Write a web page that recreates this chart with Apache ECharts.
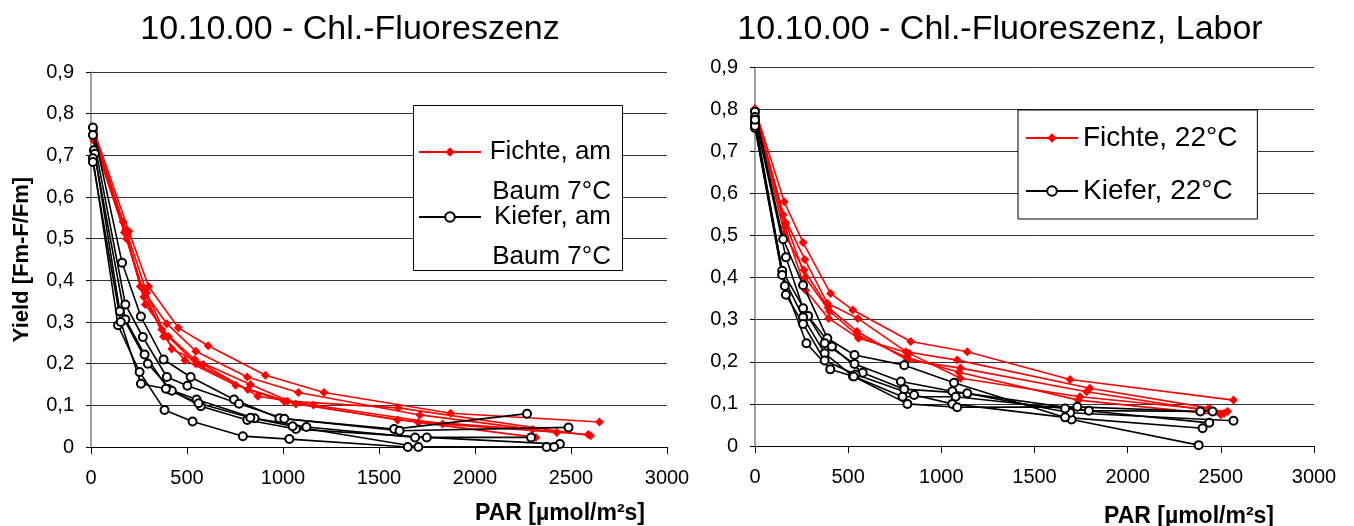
<!DOCTYPE html>
<html>
<head>
<meta charset="utf-8">
<script src="https://cdn.jsdelivr.net/npm/echarts@6/dist/echarts.min.js"></script>
<style>
html,body{margin:0;padding:0;background:#fff;}
#chart{width:1354px;height:526px;}
</style>
</head>
<body>
<div id="chart"></div>
<script>
// ---- Data: [PAR, Yield] ----
// Left chart: 10.10.00 - field ("am Baum 7°C")
const fichteBaum1 = [[15,0.76],[197,0.518],[300,0.385],[455,0.286],[610,0.243],[909,0.172],[1214,0.131],[1873,0.081],[2648,0.06]];
const fichteBaum2 = [[15,0.755],[167,0.54],[257,0.385],[395,0.296],[546,0.23],[814,0.168],[1080,0.131],[1713,0.077],[2426,0.035]];
const fichteBaum3 = [[15,0.75],[174,0.515],[270,0.38],[378,0.265],[489,0.208],[754,0.148],[1024,0.11],[1601,0.094],[2602,0.027]];
const fichteBaum4 = [[15,0.745],[180,0.52],[283,0.342],[403,0.265],[546,0.2],[817,0.138],[1007,0.109],[1597,0.065],[2300,0.042]];
const fichteBaum5 = [[15,0.74],[190,0.51],[290,0.37],[421,0.235],[585,0.198],[869,0.122],[1159,0.101],[1831,0.055],[2590,0.03]];
const fichteBaum6 = [[15,0.735],[185,0.50],[275,0.36],[369,0.282],[540,0.21],[830,0.15],[1067,0.103],[1705,0.059],[2317,0.023]];

const kieferBaum1 = [[10,0.767],[162,0.442],[260,0.313],[378,0.21],[519,0.168],[745,0.114],[981,0.069],[1579,0.043],[2271,0.08]];
const kieferBaum2 = [[10,0.749],[179,0.342],[270,0.264],[395,0.168],[502,0.147],[771,0.104],[1007,0.068],[1607,0.039],[2487,0.047]];
const kieferBaum3 = [[15,0.712],[179,0.306],[279,0.222],[403,0.139],[550,0.114],[852,0.069],[1122,0.048],[1688,0.023],[2292,0.023]];
const kieferBaum4 = [[20,0.704],[150,0.326],[296,0.2],[421,0.135],[572,0.098],[814,0.065],[1067,0.043],[1749,0.023],[2442,0.007]];
const kieferBaum5 = [[10,0.693],[141,0.292],[253,0.18],[383,0.089],[529,0.061],[791,0.026],[1033,0.019],[1650,0],[2373,0]];
const kieferBaum6 = [[10,0.684],[155,0.30],[260,0.152],[390,0.14],[560,0.105],[830,0.07],[1050,0.05],[1705,0],[2412,0]];

// Right chart: 10.10.00 - lab (22°C)
const fichte22_1 = [[0,0.80],[157,0.58],[258,0.483],[406,0.362],[525,0.323],[836,0.248],[1139,0.224],[1691,0.158],[2568,0.109]];
const fichte22_2 = [[0,0.80],[151,0.549],[267,0.443],[388,0.339],[552,0.303],[810,0.224],[1085,0.204],[1797,0.137],[2438,0.09]];
const fichte22_3 = [[0,0.80],[157,0.505],[263,0.418],[392,0.329],[548,0.272],[818,0.204],[1103,0.185],[1780,0.129],[2518,0.078]];
const fichte22_4 = [[0,0.80],[160,0.52],[272,0.37],[395,0.303],[555,0.256],[828,0.22],[1103,0.161],[1744,0.117],[2536,0.082]];
const fichte22_5 = [[0,0.795],[165,0.53],[270,0.40],[400,0.32],[545,0.265],[815,0.21],[1095,0.175],[1735,0.109],[2500,0.074]];

const kiefer22_1 = [[0,0.794],[151,0.491],[258,0.382],[388,0.256],[534,0.216],[801,0.192],[1068,0.15],[1699,0.063],[2381,0.002]];
const kiefer22_2 = [[0,0.781],[166,0.448],[258,0.327],[374,0.244],[534,0.195],[783,0.153],[1059,0.13],[1792,0.084],[2456,0.082]];
const kiefer22_3 = [[0,0.768],[146,0.416],[285,0.309],[413,0.236],[578,0.174],[801,0.135],[1139,0.125],[1691,0.079],[2568,0.06]];
const kiefer22_4 = [[0,0.755],[146,0.406],[258,0.306],[374,0.22],[525,0.166],[792,0.117],[1077,0.117],[1664,0.089],[2438,0.055]];
const kiefer22_5 = [[0,0.76],[166,0.359],[258,0.29],[374,0.203],[540,0.17],[854,0.121],[1059,0.1],[1664,0.068],[2402,0.042]];
const kiefer22_6 = [[0,0.775],[160,0.38],[276,0.244],[404,0.182],[530,0.165],[818,0.1],[1085,0.092],[1730,0.093],[2390,0.082]];

const titles = ['10.10.00 - Chl.-Fluoreszenz', '10.10.00 - Chl.-Fluoreszenz, Labor'];
const nameFichteBaum = 'Fichte, am Baum 7°C';
const nameKieferBaum = 'Kiefer, am Baum 7°C';
const nameFichte22 = 'Fichte, 22°C';
const nameKiefer22 = 'Kiefer, 22°C';
const xName = 'PAR [µmol/m²s]';
const yName = 'Yield [Fm-F/Fm]';

// ---- Chart ----
const FONT = '"Liberation Sans", Arial, sans-serif';
const chart = echarts.init(document.getElementById('chart'), null, {renderer: 'canvas'});

function redSeries(data, name, idx) {
  return {
    type: 'line', name: name, data: data, xAxisIndex: idx, yAxisIndex: idx,
    symbol: 'diamond', symbolSize: 9, color: '#ff0000',
    lineStyle: {color: '#ff0000', width: 1.6},
    itemStyle: {color: '#ff0000'},
    emphasis: {disabled: true}, animation: false, z: 2
  };
}
function blackSeries(data, name, idx) {
  return {
    type: 'line', name: name, data: data, xAxisIndex: idx, yAxisIndex: idx,
    symbol: 'emptyCircle', symbolSize: 8, color: '#000',
    lineStyle: {color: '#000', width: 1.6},
    itemStyle: {color: '#000', borderWidth: 1.6},
    emphasis: {disabled: true}, animation: false, z: 3
  };
}

function xAxisOpt(idx) {
  return {
    type: 'value', gridIndex: idx, min: 0, max: 3000, interval: 500,
    axisLine: {show: true, lineStyle: {color: '#000', width: 1}},
    axisTick: {show: true, inside: false, length: 7, lineStyle: {color: '#000'}},
    axisLabel: {fontFamily: FONT, fontSize: 20, color: '#000', margin: 21,
      formatter: v => String(v)},
    splitLine: {show: false}
  };
}
function yAxisOpt(idx, withName) {
  const o = {
    type: 'value', gridIndex: idx, min: 0, max: 0.9, interval: 0.1,
    axisLine: {show: true, lineStyle: {color: '#808080', width: 1.5}},
    axisTick: {show: true, inside: false, length: 5, lineStyle: {color: '#000'}},
    axisLabel: {fontFamily: FONT, fontSize: 20, color: '#000', margin: 17,
      formatter: v => v === 0 ? '0' : v.toFixed(1).replace('.', ',')},
    splitLine: {show: true, lineStyle: {color: '#333', width: 1}}
  };
  if (withName) {
    o.name = yName;
    o.nameLocation = 'middle';
    o.nameGap = 58;
    o.nameRotate = 90;
    o.nameTextStyle = {fontFamily: FONT, fontSize: 22, fontWeight: 'bold', color: '#000'};
  }
  return o;
}

const series = [];
[fichteBaum1, fichteBaum2, fichteBaum3, fichteBaum4, fichteBaum5, fichteBaum6].forEach(d => series.push(redSeries(d, nameFichteBaum, 0)));
[kieferBaum1, kieferBaum2, kieferBaum3, kieferBaum4, kieferBaum5, kieferBaum6].forEach(d => series.push(blackSeries(d, nameKieferBaum, 0)));
[fichte22_1, fichte22_2, fichte22_3, fichte22_4, fichte22_5].forEach(d => series.push(redSeries(d, nameFichte22, 1)));
[kiefer22_1, kiefer22_2, kiefer22_3, kiefer22_4, kiefer22_5, kiefer22_6].forEach(d => series.push(blackSeries(d, nameKiefer22, 1)));

const twoLineRich = {
  e: {fontFamily: FONT, fontSize: 26, lineHeight: 40, color: '#000'},
  a: {fontFamily: FONT, fontSize: 26, lineHeight: 40, color: '#000', width: 125, align: 'right'}
};
function twoLineLegend(name, top) {
  return {
    data: [name], left: 418, top: top, orient: 'vertical', padding: 0, z: 10,
    itemWidth: 62, itemHeight: 12, selectedMode: false,
    textStyle: {rich: twoLineRich},
    formatter: n => {
      const first = n.split(' Baum')[0];
      const second = 'Baum' + n.split(' Baum')[1];
      return '{e|\u00a0}\n{a|' + first + '}\n{a|' + second + '}';
    }
  };
}

const option = {
  backgroundColor: '#fff',
  animation: false,
  grid: [
    {left: 91, width: 576, top: 72, height: 375},
    {left: 755, width: 559, top: 67, height: 379}
  ],
  xAxis: [xAxisOpt(0), xAxisOpt(1)],
  yAxis: [yAxisOpt(0, true), yAxisOpt(1, false)],
  legend: [
    twoLineLegend(nameFichteBaum, 99),
    twoLineLegend(nameKieferBaum, 164),
    {
      data: [nameFichte22, nameKiefer22], left: 1018, top: 110, orient: 'vertical', z: 10,
      padding: [12, 20, 12, 7], itemGap: 21, itemWidth: 52, itemHeight: 12,
      selectedMode: false,
      borderColor: '#000', borderWidth: 1, backgroundColor: '#fff',
      textStyle: {fontFamily: FONT, fontSize: 28, lineHeight: 32, color: '#000'}
    }
  ],
  graphic: [
    {type: 'rect', z: 9, shape: {x: 413.5, y: 105.5, width: 209, height: 165}, style: {fill: '#fff', stroke: '#000', lineWidth: 1}},
    {type: 'text', x: 350, y: 30, style: {text: titles[0], font: '34px ' + FONT, fill: '#000', align: 'center', verticalAlign: 'middle'}},
    {type: 'text', x: 1000, y: 30, style: {text: titles[1], font: '34px ' + FONT, fill: '#000', align: 'center', verticalAlign: 'middle'}},
    {type: 'text', x: 560, y: 514, style: {text: xName, font: 'bold 23px ' + FONT, fill: '#000', align: 'center', verticalAlign: 'middle'}},
    {type: 'text', x: 1189, y: 517, style: {text: xName, font: 'bold 23px ' + FONT, fill: '#000', align: 'center', verticalAlign: 'middle'}}
  ],
  series: series
};
chart.setOption(option);
</script>
</body>
</html>
